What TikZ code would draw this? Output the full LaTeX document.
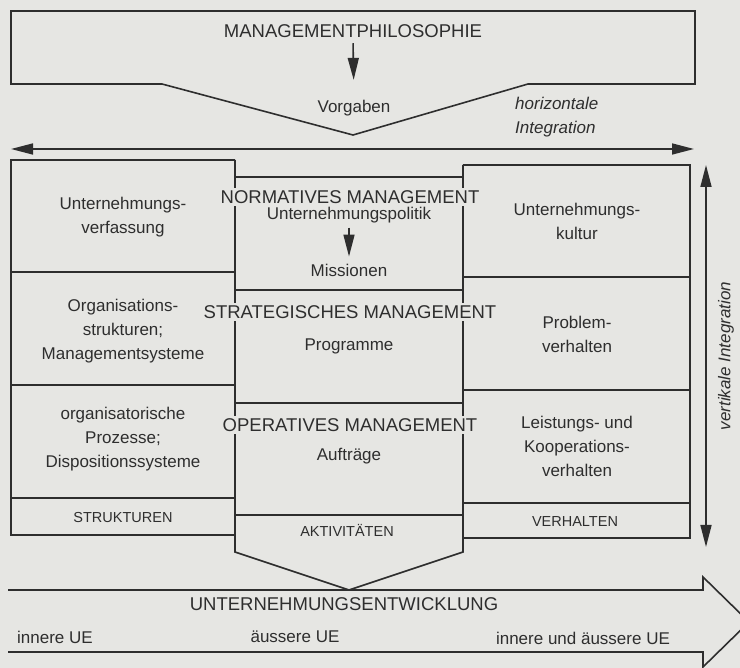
\documentclass[tikz,border=0pt]{standalone}
\usepackage{fontspec}
\setmainfont{Liberation Sans}
\usetikzlibrary{arrows.meta}
\definecolor{paper}{HTML}{E6E6E3}
\definecolor{ink}{HTML}{2E2E2E}
\begin{document}
\begin{tikzpicture}[x=1pt,y=-1pt,
  line/.style={draw=ink, line width=1.6pt, line join=miter},
  tip/.style={-{Triangle[length=22pt,width=11pt]}},
  arr/.style={line, tip},
  body/.style={text=ink, font=\fontsize{17}{24}\selectfont, align=center, inner sep=0pt},
  head/.style={text=ink, font=\fontsize{18.5}{22}\selectfont, fill=paper, inner xsep=0pt, inner ysep=2.5pt},
  small/.style={text=ink, font=\fontsize{14.5}{17}\selectfont, inner sep=0pt},
  ital/.style={text=ink, font=\fontsize{17}{24}\selectfont\itshape, align=left, inner sep=0pt}]

\fill[paper] (0,0) rectangle (740,668);
\useasboundingbox (0,0) rectangle (740,668);
\clip (0,0) rectangle (740,668);

% top box (Managementphilosophie)
\draw[line] (11,11) -- (695,11) -- (695,84) -- (528,84) -- (353,135) -- (162,84) -- (11,84) -- cycle;

% horizontal integration arrow
\coordinate (hl) at (11,149);
\coordinate (hr) at (694,149);
\draw[line, {Triangle[length=22pt,width=11pt]}-{Triangle[length=22pt,width=11pt]}] (hl) -- (hr);

% left column
\draw[line] (235,160) -- (11,160) -- (11,535) -- (235,535);
\draw[line] (11,272) -- (235,272);
\draw[line] (11,385) -- (235,385);
\draw[line] (11,498) -- (235,498);

% middle column
\draw[line] (235,160) -- (235,552) -- (349,590) -- (463,552) -- (463,165);
\draw[line] (235,177) -- (463,177);
\draw[line] (235,290) -- (463,290);
\draw[line] (235,403) -- (463,403);
\draw[line] (235,515) -- (463,515);

% right column
\draw[line] (463,165) -- (690,165) -- (690,538) -- (463,538);
\draw[line] (463,277) -- (690,277);
\draw[line] (463,390) -- (690,390);
\draw[line] (463,503) -- (690,503);

% vertical integration arrow
\coordinate (vt) at (706,165);
\coordinate (vb) at (706,547);
\draw[line, {Triangle[length=22pt,width=11pt]}-{Triangle[length=22pt,width=11pt]}] (vb) -- (vt);

% bottom big arrow (Unternehmungsentwicklung)
\draw[line] (8,590) -- (703,590) -- (703,577) -- (749,622) -- (703,667) -- (703,652) -- (8,652);

% texts top
\node[head] (mp) at (353,31) {MANAGEMENTPHILOSOPHIE};
\node[body] (vg) at (354,108) {Vorgaben};
\draw[arr, shorten <=3pt, shorten >=20pt] (mp.south) -- (vg.north);
\node[ital, anchor=west] (hi) at (515,117) {horizontale\\Integration};

% left column texts
\node[body] (uv) at (123,217) {Unternehmungs-\\verfassung};
\node[body] (os) at (123,331) {Organisations-\\strukturen;\\Managementsysteme};
\node[body] (op) at (123,439) {organisatorische\\Prozesse;\\Dispositionssysteme};
\node[small] (st) at (123,518) {STRUKTUREN};

% middle column texts
\node[head] (nm) at (350,197) {NORMATIVES MANAGEMENT};
\node[body] (up) at (349,215.5) {Unternehmungspolitik};
\node[body] (mi) at (349,270) {Missionen};
\draw[arr, shorten <=4pt, shorten >=7pt] (up.south) -- (mi.north);
\node[head] (sm) at (350,312) {STRATEGISCHES MANAGEMENT};
\node[body] (pg) at (349,346) {Programme};
\node[head] (om) at (350,425) {OPERATIVES MANAGEMENT};
\node[body] (au) at (349,456) {Aufträge};
\node[small] (ak) at (347,530) {AKTIVITÄTEN};

% right column texts
\node[body] (uk) at (577,221) {Unternehmungs-\\kultur};
\node[body] (pv) at (577,334) {Problem-\\verhalten};
\node[body] (lk) at (577,446) {Leistungs- und\\Kooperations-\\verhalten};
\node[small] (vh) at (575,522) {VERHALTEN};

% vertical label
\node[ital, rotate=90] (vi) at (726,356) {vertikale Integration};

% bottom arrow texts
\node[head, fill=none] (ue) at (344,604) {UNTERNEHMUNGSENTWICKLUNG};
\node[body, anchor=west] (iu) at (17,637) {innere UE};
\node[body] (au2) at (295,637) {äussere UE};
\node[body] (iau) at (583,638) {innere und äussere UE};
\end{tikzpicture}
\end{document}
